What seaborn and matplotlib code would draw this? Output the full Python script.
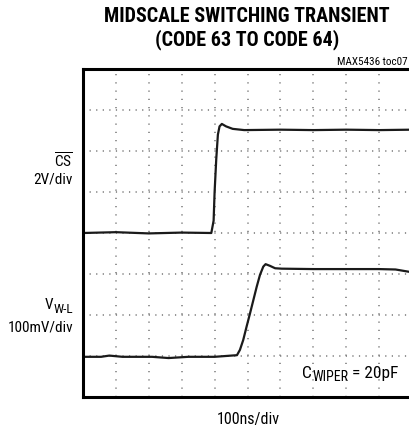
import matplotlib
matplotlib.use("Agg")
import matplotlib.pyplot as plt
import seaborn as sns
import pandas as pd
from matplotlib.ticker import MultipleLocator

# scope traces, in screen divisions (x: 0..10, y: 0..8 from bottom)
cs_t = [0.0, 1.0, 2.0, 3.0, 3.9, 3.97, 4.0, 4.05, 4.1, 4.15, 4.22, 4.35, 4.55, 4.9, 6.0, 7.0, 8.0, 9.0, 10.0]
cs_v = [4.0, 4.02, 3.99, 4.01, 4.0, 4.3, 5.0, 5.8, 6.4, 6.6, 6.66, 6.6, 6.54, 6.51, 6.52, 6.51, 6.52, 6.51, 6.52]

vw_t = [0.0, 0.55, 0.8, 1.2, 2.1, 2.6, 3.2, 4.0, 4.68, 4.77, 4.87, 4.97, 5.08, 5.18, 5.28, 5.38, 5.48,
        5.55, 5.68, 5.84, 6.04, 7.0, 8.0, 9.0, 9.5, 9.94]
vw_v = [0.98, 0.98, 1.01, 0.98, 0.98, 0.95, 0.98, 0.98, 1.02, 1.15, 1.39, 1.71, 2.05, 2.37, 2.69, 2.98, 3.18,
        3.24, 3.2, 3.14, 3.13, 3.12, 3.12, 3.12, 3.11, 3.05]

cs_df = pd.DataFrame({"t": cs_t, "v": cs_v})
vw_df = pd.DataFrame({"t": vw_t, "v": vw_v})

sns.set_style("white")
plt.rcParams["font.family"] = ["Roboto Condensed", "Liberation Sans", "DejaVu Sans"]
plt.rcParams["mathtext.fontset"] = "custom"
plt.rcParams["mathtext.rm"] = "Roboto Condensed"
plt.rcParams["text.color"] = "black"

W, H = 410, 429
fig = plt.figure(figsize=(W / 100, H / 100), dpi=100)
ax = fig.add_axes([83 / W, 1 - 397 / H, 329 / W, 328 / H])


def fx(px):
    return px / W


def fy(py):
    return 1 - py / H


sns.lineplot(data=cs_df, x="t", y="v", ax=ax, color="#1a1a1a", lw=1.6, estimator=None, sort=False)
sns.lineplot(data=vw_df, x="t", y="v", ax=ax, color="#1a1a1a", lw=1.6, estimator=None, sort=False)

ax.set_xlim(0, 10)
ax.set_ylim(0, 8)
ax.xaxis.set_major_locator(MultipleLocator(1))
ax.yaxis.set_major_locator(MultipleLocator(1))
# dots every 1/5 division along each grid line
ax.xaxis.grid(True, color="#777777", lw=1.1, linestyle=(0, (0.8, 4.6)))
ax.yaxis.grid(True, color="#777777", lw=1.1, linestyle=(0, (0.8, 3.5)))
ax.tick_params(length=0, labelbottom=False, labelleft=False)
ax.set_xlabel("")
ax.set_ylabel("")
for s in ax.spines.values():
    s.set_color("black")
    s.set_linewidth(2.2)

fig.text(fx(247), fy(22), "MIDSCALE SWITCHING TRANSIENT", ha="center", va="baseline",
         fontsize=14.5, fontweight="bold")
fig.text(fx(247), fy(45), "(CODE 63 TO CODE 64)", ha="center", va="baseline",
         fontsize=14.5, fontweight="bold")
fig.text(fx(337), fy(65), "MAX5436 toc07", ha="left", va="baseline", fontsize=8)

# channel labels
fig.text(fx(73), fy(168), r"$\overline{\mathregular{CS}}$", ha="right", va="baseline", fontsize=11)
fig.text(fx(73), fy(183), "2V/div", ha="right", va="baseline", fontsize=11)
wl = fig.text(fx(73), fy(313), "W-L", ha="right", va="baseline", fontsize=9.5)
fig.add_artist(plt.Annotation("V", xy=(0, 0), xycoords=wl, xytext=(-0.3, 2.8), textcoords="offset points",
                              ha="right", va="bottom", fontsize=11))
fig.text(fx(73), fy(332), "100mV/div", ha="right", va="baseline", fontsize=11)

# wiper capacitance note
c = fig.text(fx(302), fy(378), "C", ha="left", va="baseline", fontsize=12.5)
wp = plt.Annotation("WIPER", xy=(1, 0), xycoords=c, xytext=(0.3, -2.2), textcoords="offset points",
                    ha="left", va="bottom", fontsize=10)
fig.add_artist(wp)
fig.add_artist(plt.Annotation(" = 20pF", xy=(1, 0), xycoords=wp, xytext=(0, 2.2), textcoords="offset points",
                              ha="left", va="bottom", fontsize=12.5))

fig.text(fx(248), fy(424), "100ns/div", ha="center", va="baseline", fontsize=11.5)

fig.savefig("out.png", dpi=100)
